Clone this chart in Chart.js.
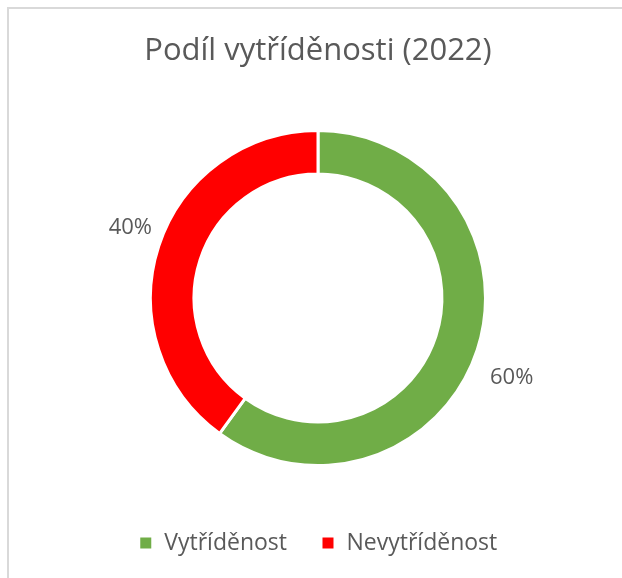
<!DOCTYPE html>
<html>
<head>
<meta charset="utf-8">
<script src="https://cdn.jsdelivr.net/npm/chart.js@4"></script>
<style>
    html, body { margin: 0; padding: 0; background: #fff; overflow: hidden; }
    #frame {
        position: absolute; left: 7px; top: 7px; width: 700px; height: 700px;
        border: 2px solid #d9d9d9; box-sizing: border-box;
    }
    #wrap { position: absolute; left: 0; top: 0; width: 622px; height: 578px; }
</style>
</head>
<body>
<div id="frame"></div>
<div id="wrap"><canvas id="chart" width="622" height="578"></canvas></div>
<script>
const categories = ["Vytříděnost", "Nevytříděnost"];
const shares = [60, 40];
const colors = ["#70ad47", "#ff0000"];
const chartTitle = "Podíl vytříděnosti (2022)";

const textColor = "#595959";
const fontFamily = "'Open Sans', sans-serif";

// percentages outside the ring, roughly where Excel puts them
const outsideLabels = {
    id: "outsideLabels",
    afterDatasetsDraw(chart) {
        const ctx = chart.ctx;
        const meta = chart.getDatasetMeta(0);
        ctx.save();
        ctx.fillStyle = textColor;
        ctx.font = "22px " + fontFamily;
        ctx.textAlign = "center";
        ctx.textBaseline = "middle";
        meta.data.forEach((arc, i) => {
            const p = arc.getProps(["x", "y", "startAngle", "endAngle", "outerRadius"], true);
            const mid = (p.startAngle + p.endAngle) / 2;
            const r = p.outerRadius + 33;
            const sin = Math.sin(mid);
            const x = p.x + Math.cos(mid) * r + 3;
            const y = p.y + sin * r + Math.sign(sin) * 13 + 5;
            ctx.fillText(shares[i] + "%", x, y);
        });
        ctx.restore();
    }
};

new Chart(document.getElementById("chart"), {
    type: "doughnut",
    data: {
        labels: categories,
        datasets: [{
            data: shares,
            backgroundColor: colors,
            borderColor: "#ffffff",
            borderWidth: 3,
            hoverOffset: 0
        }]
    },
    options: {
        responsive: false,
        animation: false,
        cutout: "74%",
        layout: { padding: { top: 33, left: 14, right: 0, bottom: 13.5 } },
        plugins: {
            title: {
                display: true,
                text: chartTitle,
                color: textColor,
                font: { family: fontFamily, size: 31, weight: "normal" },
                padding: { top: 0, bottom: 58.8 }
            },
            legend: {
                position: "bottom",
                // empty legend title only used as a gap above the items
                title: {
                    display: true,
                    text: " ",
                    font: { size: 10 },
                    padding: { top: 0, bottom: 18.5 }
                },
                labels: {
                    color: textColor,
                    font: { family: fontFamily, size: 23 },
                    boxWidth: 14,
                    boxHeight: 14,
                    padding: 34
                }
            },
            tooltip: { enabled: false }
        }
    },
    plugins: [outsideLabels]
});
</script>
</body>
</html>
